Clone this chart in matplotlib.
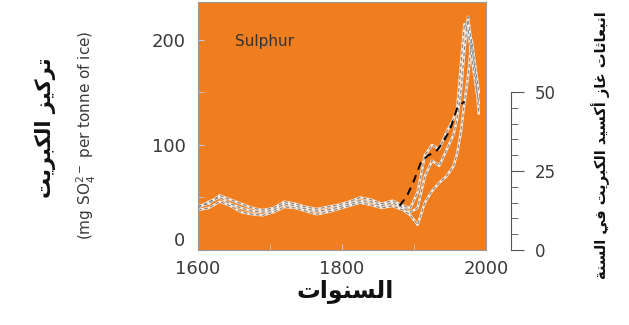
import matplotlib
matplotlib.use("Agg")
import matplotlib.pyplot as plt
from matplotlib.ticker import MultipleLocator

# sulphate in ice cores (mg SO4 per tonne of ice)
core_years = [1600, 1615, 1630, 1645, 1660, 1675, 1690, 1705, 1720, 1735, 1750,
              1765, 1780, 1795, 1810, 1825, 1840, 1855, 1870, 1885, 1895, 1905,
              1915, 1925, 1935, 1945, 1955, 1960, 1965, 1970, 1975, 1980, 1985, 1990]
core_a = [42, 44, 52, 48, 44, 40, 38, 40, 46, 44, 41, 39, 41, 43, 46, 50, 48,
          44, 47, 42, 40, 55, 90, 100, 96, 112, 125, 135, 175, 215, 210, 185, 160, 140]
core_b = [38, 40, 46, 42, 36, 34, 33, 36, 41, 40, 37, 34, 36, 39, 42, 45, 43,
          40, 42, 38, 33, 24, 45, 56, 64, 70, 80, 92, 112, 140, 165, 200, 175, 150]
core_c = [40, 46, 50, 44, 40, 37, 36, 38, 44, 42, 39, 37, 38, 41, 44, 47, 46,
          42, 45, 40, 36, 40, 70, 85, 80, 95, 110, 125, 150, 190, 222, 195, 170, 130]

# sulphur dioxide emissions per year
emis_years = [1880, 1890, 1900, 1910, 1920, 1930, 1940, 1950, 1960, 1970]
emis_vals = [14, 17, 22, 28, 30, 31, 34, 38, 45, 47]

xticks = [1600, 1800, 2000]
yticks = [0, 100, 200]
rticks = [0, 25, 50]

ARABIC_FORMS = {
    'ا': (0xFE8D, 0xFE8E, None, None),
    'أ': (0xFE83, 0xFE84, None, None),
    'ب': (0xFE8F, 0xFE90, 0xFE91, 0xFE92),
    'ة': (0xFE93, 0xFE94, None, None),
    'ت': (0xFE95, 0xFE96, 0xFE97, 0xFE98),
    'ث': (0xFE99, 0xFE9A, 0xFE9B, 0xFE9C),
    'د': (0xFEA9, 0xFEAA, None, None),
    'ر': (0xFEAD, 0xFEAE, None, None),
    'ز': (0xFEAF, 0xFEB0, None, None),
    'س': (0xFEB1, 0xFEB2, 0xFEB3, 0xFEB4),
    'ع': (0xFEC9, 0xFECA, 0xFECB, 0xFECC),
    'غ': (0xFECD, 0xFECE, 0xFECF, 0xFED0),
    'ف': (0xFED1, 0xFED2, 0xFED3, 0xFED4),
    'ك': (0xFED9, 0xFEDA, 0xFEDB, 0xFEDC),
    'ل': (0xFEDD, 0xFEDE, 0xFEDF, 0xFEE0),
    'ن': (0xFEE5, 0xFEE6, 0xFEE7, 0xFEE8),
    'و': (0xFEED, 0xFEEE, None, None),
    'ي': (0xFEF1, 0xFEF2, 0xFEF3, 0xFEF4),
}
LAM_ALEF = {'ا': (0xFEFB, 0xFEFC), 'أ': (0xFEF7, 0xFEF8)}


def shape_word(word):
    # fold lam+alef into one ligature token first
    tokens = []
    i = 0
    while i < len(word):
        if word[i] == 'ل' and i + 1 < len(word) and word[i + 1] in LAM_ALEF:
            tokens.append(('LA', word[i + 1]))
            i += 2
        else:
            tokens.append((word[i], None))
            i += 1

    def joins_next(tok):
        if tok[0] == 'LA':
            return False
        f = ARABIC_FORMS.get(tok[0])
        return f is not None and f[2] is not None

    out = []
    for k, tok in enumerate(tokens):
        prev_join = k > 0 and joins_next(tokens[k - 1])
        if tok[0] == 'LA':
            iso, fin = LAM_ALEF[tok[1]]
            out.append(chr(fin if prev_join else iso))
            continue
        f = ARABIC_FORMS.get(tok[0])
        if f is None:
            out.append(tok[0])
            continue
        next_join = (f[2] is not None and k + 1 < len(tokens)
                     and (tokens[k + 1][0] == 'LA' or tokens[k + 1][0] in ARABIC_FORMS))
        if prev_join and next_join:
            out.append(chr(f[3]))
        elif prev_join:
            out.append(chr(f[1]))
        elif next_join:
            out.append(chr(f[2]))
        else:
            out.append(chr(f[0]))
    return ''.join(out)


def arabic(text):
    shaped = ' '.join(shape_word(w) for w in text.split(' '))
    return shaped[::-1]


orange = '#F07D1E'
grey = '#3a3a3a'

fig = plt.figure(figsize=(6.29, 3.25), dpi=100)
ax = fig.add_axes([198 / 629, 75 / 325, 288 / 629, 248 / 325])
ax.set_facecolor(orange)

for vals in (core_a, core_b, core_c):
    ax.plot(core_years, vals, color='white', lw=1.8, alpha=0.85, zorder=2)
    ax.plot(core_years, vals, color='#8a8a8a', lw=0.9, ls=(0, (3, 2)), zorder=3)

ax.set_xlim(1600, 2000)
ax.set_ylim(0, 236)
ax.set_xticks(xticks)
ax.set_yticks(yticks)
ax.xaxis.set_minor_locator(MultipleLocator(100))
ax.yaxis.set_minor_locator(MultipleLocator(50))
ax.tick_params(which='both', direction='in', colors='#c8c8d8', length=4,
               labelcolor=grey, labelsize=13)
ax.tick_params(axis='y', pad=9)
ax.tick_params(axis='x', pad=7)
ax.yaxis.get_majorticklabels()[0].set_va('bottom')
for s in ax.spines.values():
    s.set_color('#9a9a9a')
    s.set_linewidth(0.8)
ax.text(0.13, 0.84, 'Sulphur', transform=ax.transAxes, fontsize=11,
        color='#333333', va='center', ha='left')

# emissions on their own scale, drawn in the main axes' x-range
axe = fig.add_axes(ax.get_position(), frameon=False)
axe.set_xlim(1600, 2000)
axe.set_ylim(0, 50 * 248 / 158)
axe.plot(emis_years, emis_vals, color='black', lw=1.4, ls=(0, (4, 3)))
axe.set_xticks([])
axe.set_yticks([])

# separate scale bar to the right
axr = fig.add_axes([511 / 629 - 0.002, 75 / 325, 0.002, 158 / 325])
axr.set_ylim(0, 50)
axr.patch.set_visible(False)
for side in ('left', 'top', 'bottom'):
    axr.spines[side].set_visible(False)
axr.spines['right'].set_color('#555555')
axr.spines['right'].set_linewidth(0.8)
axr.set_xticks([])
axr.yaxis.tick_right()
axr.set_yticks(rticks)
axr.yaxis.set_minor_locator(MultipleLocator(5))
axr.tick_params(axis='y', which='major', direction='out', length=9,
                color='#555555', labelcolor=grey, labelsize=12, pad=8)
axr.tick_params(axis='y', which='minor', direction='out', length=5,
                color='#555555')

fig.text(345 / 629, 1 - 291 / 325, arabic('السنوات'), fontsize=17,
         fontweight='bold', ha='center', va='center', color='#111111')
fig.text(45 / 629, 1 - 128 / 325, arabic('تركيز الكبريت'), fontsize=15,
         fontweight='bold', rotation=90, ha='center', va='center', color='#111111')
fig.text(86 / 629, 1 - 135 / 325, r'(mg SO$_4^{2-}$ per tonne of ice)', fontsize=11,
         rotation=90, ha='center', va='center', color=grey)
fig.text(601 / 629, 1 - 145 / 325, arabic('انبعاثات غاز أكسيد الكبريت في السنة'),
         fontsize=10.5, fontweight='bold', rotation=90, ha='center', va='center',
         color='#111111')

fig.savefig('out.png', dpi=100, facecolor='white')
